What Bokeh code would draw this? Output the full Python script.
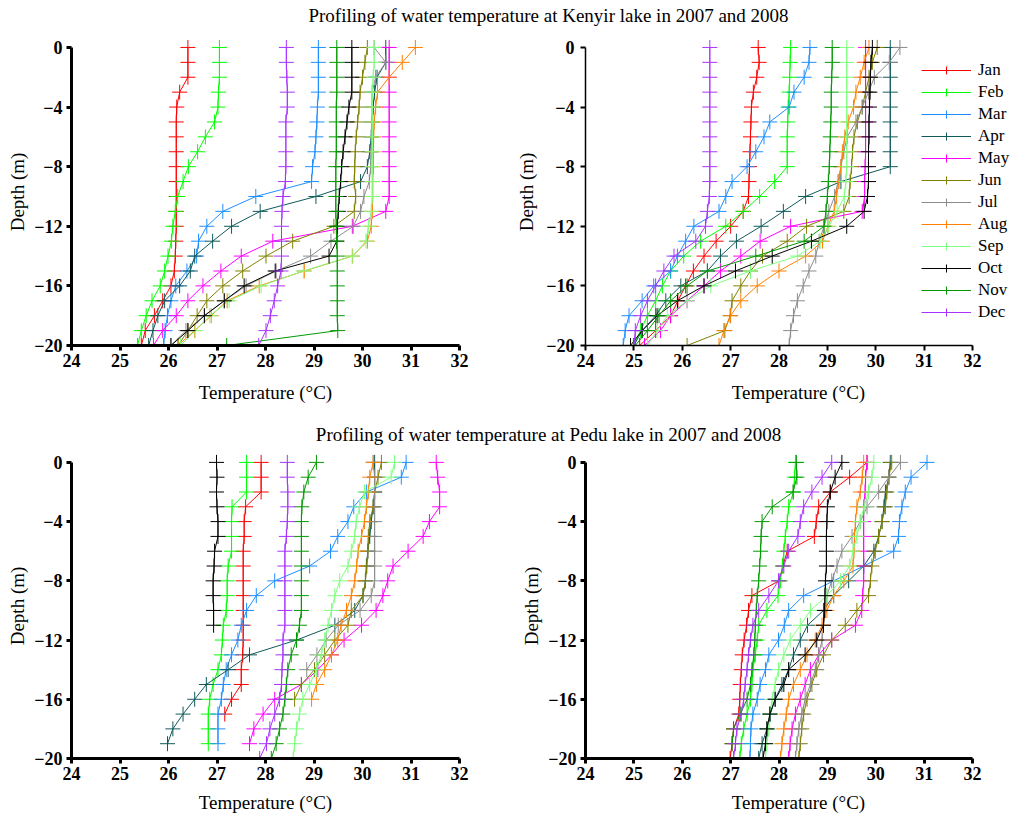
from bokeh.plotting import figure
from bokeh.models import Range1d, FixedTicker, Legend, LegendItem, Label
from bokeh.layouts import column, row
from bokeh.embed import file_html
from bokeh.resources import INLINE

# ---------------- data ----------------
MONTHS = ["Jan", "Feb", "Mar", "Apr", "May", "Jun", "Jul", "Aug", "Sep", "Oct", "Nov", "Dec"]
COLORS = ["#FF0000", "#00FF00", "#1E8FFF", "#105A5A", "#FF00FF", "#808000",
          "#8C8C8C", "#FF8000", "#80FF80", "#000000", "#009A00", "#A833FF"]
DEPTH = [0, -1, -2, -3, -4, -5, -6, -7, -8, -9, -10, -11, -12, -13, -14, -15, -16, -17, -18, -19, -20]
X_TICKS = [24, 25, 26, 27, 28, 29, 30, 31, 32]
Y_TICKS = [0, -4, -8, -12, -16, -20]
TITLE_KENYIR = "Profiling of water temperature at Kenyir lake in 2007 and 2008"
TITLE_PEDU = "Profiling of water temperature at Pedu lake in 2007 and 2008"

# Kenyir lake 2007 (top left)
KEN07_JAN = [26.40, 26.40, 26.40, 26.23, 26.17, 26.16, 26.16, 26.16, 26.16, 26.16, 26.16, 26.16, 26.16, 26.15, 26.14, 26.12, 26.05, 25.88, 25.71, 25.52, 25.44]
KEN07_FEB = [27.05, 27.05, 27.05, 27.03, 27.02, 26.95, 26.76, 26.60, 26.41, 26.30, 26.19, 26.14, 26.09, 26.06, 25.99, 25.92, 25.83, 25.66, 25.54, 25.44, 25.36]
KEN07_MAR = [29.09, 29.09, 29.09, 29.09, 29.07, 29.06, 29.04, 29.02, 28.97, 28.95, 27.80, 27.12, 26.79, 26.62, 26.58, 26.38, 26.15, 26.05, 25.98, 25.93, 25.90]
KEN07_APR = [30.48, 30.48, 30.30, 30.25, 30.22, 30.20, 30.18, 30.15, 30.10, 29.96, 29.04, 27.89, 27.30, 26.91, 26.54, 26.45, 26.23, 25.92, 25.78, 25.68, 25.59]
KEN07_MAY = [30.55, 30.55, 30.55, 30.55, 30.55, 30.55, 30.55, 30.55, 30.55, 30.55, 30.55, 30.48, 29.79, 28.15, 27.50, 27.08, 26.71, 26.40, 26.16, 25.88, 25.69]
KEN07_JUN = [30.10, 30.05, 30.00, 29.95, 29.93, 29.90, 29.87, 29.85, 29.84, 29.83, 29.86, 29.83, 29.41, 28.56, 28.01, 27.53, 27.12, 26.79, 26.59, 26.40, 26.20]
KEN07_JUL = [30.24, 30.48, 30.27, 30.20, 30.20, 30.20, 30.19, 30.18, 30.17, 30.14, 30.03, 29.96, 29.81, 29.35, 28.93, 28.22, 27.60, 27.15, 26.74, 26.36, 26.05]
KEN07_AUG = [31.09, 30.82, 30.55, 30.31, 30.27, 30.24, 30.23, 30.22, 30.22, 30.21, 30.21, 30.20, 30.18, 30.10, 29.79, 28.80, 27.87, 27.21, 26.88, 26.54, 26.19]
KEN07_SEP = [30.24, 30.24, 30.22, 30.20, 30.20, 30.20, 30.20, 30.20, 30.20, 30.20, 30.20, 30.18, 30.12, 30.07, 29.80, 28.78, 27.91, 27.25, 26.85, 26.55, 26.25]
KEN07_OCT = [29.78, 29.78, 29.78, 29.78, 29.72, 29.68, 29.64, 29.60, 29.57, 29.55, 29.52, 29.50, 29.48, 29.47, 29.31, 28.20, 27.56, 27.15, 26.74, 26.40, 26.05]
KEN07_NOV = [29.47, 29.47, 29.47, 29.47, 29.46, 29.46, 29.46, 29.46, 29.45, 29.45, 29.45, 29.45, 29.46, 29.47, 29.48, 29.48, 29.48, 29.48, 29.48, 29.49, 27.20]
KEN07_DEC = [28.43, 28.43, 28.44, 28.45, 28.45, 28.42, 28.42, 28.42, 28.42, 28.41, 28.36, 28.34, 28.33, 28.33, 28.33, 28.32, 28.25, 28.18, 28.10, 28.01, 27.86]

# Kenyir lake 2008 (top right)
KEN08_JAN = [27.57, 27.59, 27.54, 27.47, 27.43, 27.42, 27.41, 27.40, 27.39, 27.38, 27.37, 27.26, 27.00, 26.70, 26.45, 26.23, 26.07, 25.91, 25.76, 25.45, 25.12]
KEN08_FEB = [28.24, 28.23, 28.22, 28.21, 28.19, 28.18, 28.17, 28.17, 28.17, 27.91, 27.60, 27.26, 26.90, 26.38, 26.03, 25.76, 25.59, 25.45, 25.28, 25.14, 24.99]
KEN08_MAR = [28.64, 28.62, 28.52, 28.31, 28.21, 27.81, 27.69, 27.52, 27.34, 27.03, 26.90, 26.76, 26.24, 26.07, 25.90, 25.76, 25.41, 25.17, 24.90, 24.82, 24.78]
KEN08_APR = [30.30, 30.30, 30.30, 30.30, 30.30, 30.30, 30.30, 30.30, 30.30, 29.28, 28.55, 28.09, 27.63, 27.12, 26.79, 26.52, 25.97, 25.66, 25.45, 25.17, 25.00]
KEN08_MAY = [29.79, 29.79, 29.79, 29.79, 29.79, 29.79, 29.79, 29.79, 29.78, 29.77, 29.77, 29.72, 28.24, 27.61, 27.21, 26.79, 26.45, 26.10, 25.76, 25.55, 25.22]
KEN08_JUN = [30.03, 29.93, 29.86, 29.79, 29.72, 29.62, 29.55, 29.52, 29.50, 29.47, 29.45, 29.34, 28.57, 28.17, 27.66, 27.41, 27.21, 27.03, 26.99, 26.88, 26.10]
KEN08_JUL = [30.50, 30.28, 29.97, 29.85, 29.72, 29.59, 29.41, 29.34, 29.28, 29.22, 29.15, 29.03, 28.93, 28.83, 28.76, 28.62, 28.50, 28.38, 28.30, 28.24, 28.21]
KEN08_AUG = [29.86, 29.76, 29.68, 29.59, 29.54, 29.43, 29.36, 29.31, 29.28, 29.24, 29.19, 29.14, 29.01, 28.90, 28.55, 28.00, 27.55, 27.21, 27.00, 26.86, 26.76]
KEN08_SEP = [29.40, 29.40, 29.40, 29.40, 29.40, 29.40, 29.40, 29.40, 29.40, 29.38, 29.35, 29.20, 29.03, 28.85, 28.38, 27.41, 26.59, 26.10, 25.69, 25.48, 25.28]
KEN08_OCT = [29.93, 29.90, 29.89, 29.88, 29.87, 29.86, 29.86, 29.85, 29.85, 29.85, 29.83, 29.76, 29.40, 28.67, 27.86, 27.10, 26.45, 25.90, 25.48, 25.17, 24.93]
KEN08_NOV = [29.10, 29.10, 29.09, 29.08, 29.08, 29.07, 29.06, 29.05, 29.04, 29.02, 29.00, 28.97, 28.93, 28.52, 27.52, 26.52, 26.10, 25.76, 25.52, 25.28, 25.03]
KEN08_DEC = [26.57, 26.57, 26.57, 26.57, 26.57, 26.57, 26.57, 26.57, 26.57, 26.57, 26.56, 26.52, 26.48, 26.28, 25.83, 25.62, 25.45, 25.28, 25.14, 25.03, 25.00]

# Pedu lake 2007 (bottom left); some profiles stop before -20 m
PED07_JAN = [27.91, 27.91, 27.91, 27.59, 27.56, 27.56, 27.54, 27.54, 27.54, 27.54, 27.54, 27.54, 27.54, 27.53, 27.50, 27.50, 27.30, 27.16]
PED07_FEB = [27.61, 27.61, 27.61, 27.31, 27.30, 27.30, 27.30, 27.23, 27.21, 27.21, 27.19, 27.13, 27.11, 27.09, 27.02, 26.92, 26.85, 26.82, 26.82, 26.82]
PED07_MAR = [30.90, 30.80, 30.08, 29.82, 29.70, 29.49, 29.34, 28.91, 28.19, 27.81, 27.61, 27.50, 27.43, 27.30, 27.19, 27.13, 27.09, 27.02, 27.02, 27.02]
PED07_APR = [30.25, 30.25, 30.25, 30.22, 30.18, 30.15, 30.11, 30.08, 30.06, 30.01, 29.84, 29.43, 28.64, 27.67, 27.23, 26.78, 26.54, 26.30, 26.09, 25.98]
PED07_MAY = [31.52, 31.55, 31.59, 31.59, 31.38, 31.25, 30.94, 30.63, 30.52, 30.42, 30.28, 29.98, 29.62, 29.36, 29.08, 28.74, 28.19, 27.95, 27.76, 27.67]
PED07_JUN = [30.39, 30.32, 30.25, 30.22, 30.15, 30.12, 30.11, 30.09, 30.06, 30.01, 29.77, 29.70, 29.43, 29.22, 29.01, 28.74, 28.60]
PED07_JUL = [30.22, 30.25, 30.25, 30.25, 30.25, 30.25, 30.25, 30.25, 30.25, 30.18, 29.95, 29.50, 29.25, 29.06, 28.85]
PED07_AUG = [30.22, 30.15, 30.12, 30.08, 30.04, 29.98, 29.91, 29.88, 29.84, 29.77, 29.67, 29.56, 29.49, 29.36, 29.22, 29.05, 28.95]
PED07_SEP = [30.66, 30.59, 30.04, 29.94, 29.87, 29.84, 29.77, 29.70, 29.53, 29.43, 29.36, 29.29, 29.22, 29.15, 29.05, 28.91, 28.77, 28.70, 28.64, 28.60, 28.57]
PED07_OCT = [26.99, 27.00, 26.99, 27.00, 27.02, 27.02, 26.95, 26.94, 26.92, 26.92, 26.93, 26.93]
PED07_NOV = [29.05, 28.88, 28.79, 28.75, 28.74, 28.74, 28.74, 28.74, 28.74, 28.74, 28.74, 28.70, 28.64, 28.53, 28.46, 28.43, 28.40, 28.36, 28.29, 28.22, 28.12]
PED07_DEC = [28.45, 28.45, 28.46, 28.46, 28.45, 28.43, 28.40, 28.40, 28.40, 28.40, 28.40, 28.40, 28.36, 28.36, 28.34, 28.33, 28.29, 28.19, 28.09, 28.02, 27.88]

# Pedu lake 2008 (bottom right)
PED08_JAN = [29.82, 29.46, 29.06, 28.82, 28.77, 28.73, 28.17, 28.08, 28.00, 27.44, 27.37, 27.33, 27.28, 27.24, 27.22, 27.20, 27.19, 27.17, 27.06, 27.03, 26.99]
PED08_FEB = [28.34, 28.32, 28.30, 28.20, 28.17, 28.13, 28.10, 28.07, 28.03, 27.98, 27.75, 27.58, 27.55, 27.51, 27.46, 27.44, 27.41, 27.34, 27.27, 27.22, 27.19]
PED08_MAR = [31.06, 30.73, 30.61, 30.54, 30.49, 30.47, 30.37, 29.75, 29.13, 28.51, 28.20, 28.11, 27.99, 27.79, 27.72, 27.61, 27.55, 27.46, 27.42, 27.41, 27.40]
PED08_APR = [30.30, 30.27, 30.20, 30.17, 30.13, 30.06, 29.96, 29.75, 29.44, 29.13, 28.92, 28.59, 28.44, 28.30, 28.20, 28.06, 27.92, 27.82, 27.75, 27.65, 27.58]
PED08_MAY = [29.82, 29.79, 29.78, 29.75, 29.75, 29.75, 29.75, 29.75, 29.75, 29.73, 29.71, 29.58, 29.09, 28.82, 28.65, 28.54, 28.44, 28.34, 28.27, 28.23, 28.20]
PED08_JUN = [30.33, 30.27, 30.23, 30.20, 30.13, 30.06, 29.99, 29.92, 29.89, 29.85, 29.61, 29.37, 29.09, 28.92, 28.78, 28.68, 28.58, 28.51, 28.47, 28.44, 28.41]
PED08_JUL = [30.51, 30.27, 30.06, 29.82, 29.68, 29.51, 29.30, 29.20, 29.09, 28.99, 28.96, 28.92, 28.89, 28.82, 28.75, 28.65, 28.54, 28.47, 28.41, 28.37, 28.34]
PED08_AUG = [29.75, 29.72, 29.68, 29.61, 29.58, 29.56, 29.55, 29.53, 29.34, 29.13, 28.99, 28.89, 28.75, 28.58, 28.44, 28.30, 28.20, 28.15, 28.10, 28.06, 28.03]
PED08_SEP = [29.96, 29.92, 29.85, 29.76, 29.68, 29.61, 29.53, 29.46, 29.27, 28.99, 28.65, 28.44, 28.23, 28.10, 27.99, 27.92, 27.86, 27.81, 27.79, 27.75, 27.72]
PED08_OCT = [29.30, 29.16, 29.06, 29.00, 28.99, 28.98, 28.98, 28.98, 28.96, 28.95, 28.94, 28.92, 28.78, 28.54, 28.20, 28.10, 27.92, 27.81, 27.75, 27.72, 27.67]
PED08_NOV = [28.36, 28.37, 28.29, 27.86, 27.65, 27.63, 27.62, 27.60, 27.58, 27.55, 27.53, 27.51, 27.50, 27.48, 27.44, 27.41, 27.34, 27.20, 27.06, 27.03]
PED08_DEC = [29.09, 28.89, 28.68, 28.51, 28.44, 28.39, 28.20, 28.10, 27.99, 27.79, 27.58, 27.46, 27.41, 27.37, 27.34, 27.30, 27.27, 27.22, 27.13, 27.10, 27.06]

KEN07 = [KEN07_JAN, KEN07_FEB, KEN07_MAR, KEN07_APR, KEN07_MAY, KEN07_JUN,
         KEN07_JUL, KEN07_AUG, KEN07_SEP, KEN07_OCT, KEN07_NOV, KEN07_DEC]
KEN08 = [KEN08_JAN, KEN08_FEB, KEN08_MAR, KEN08_APR, KEN08_MAY, KEN08_JUN,
         KEN08_JUL, KEN08_AUG, KEN08_SEP, KEN08_OCT, KEN08_NOV, KEN08_DEC]
PED07 = [PED07_JAN, PED07_FEB, PED07_MAR, PED07_APR, PED07_MAY, PED07_JUN,
         PED07_JUL, PED07_AUG, PED07_SEP, PED07_OCT, PED07_NOV, PED07_DEC]
PED08 = [PED08_JAN, PED08_FEB, PED08_MAR, PED08_APR, PED08_MAY, PED08_JUN,
         PED08_JUL, PED08_AUG, PED08_SEP, PED08_OCT, PED08_NOV, PED08_DEC]

FONT = "Liberation Serif"
TOTAL_W = 1011


def title_fig(text, height, y_center_from_top):
    t = figure(width=TOTAL_W, height=height, x_range=Range1d(0, TOTAL_W), y_range=Range1d(0, height),
               x_axis_type=None, y_axis_type=None, toolbar_location=None, output_backend="svg",
               outline_line_color=None, min_border=0, title=None)
    t.xgrid.visible = False
    t.ygrid.visible = False
    t.add_layout(Label(x=548, y=height - y_center_from_top, text=text, text_align="center",
                       text_baseline="middle", text_font=FONT, text_font_size="19px",
                       text_color="black"))
    return t


def make_panel(series, frame_w, frame_h, x_max, bl, br, bt, bb, axis_w, tick_w,
               ylab_standoff, ylab_axis_standoff, xlab_axis_standoff):
    p = figure(frame_width=frame_w, frame_height=frame_h,
               x_range=Range1d(24, x_max), y_range=Range1d(-20, 0.6),
               toolbar_location=None, output_backend="svg", title=None,
               min_border_left=bl, min_border_right=br, min_border_top=bt, min_border_bottom=bb,
               outline_line_color=None)
    p.xgrid.visible = False
    p.ygrid.visible = False
    renderers = []
    for vals, color in zip(series, COLORS):
        d = DEPTH[:len(vals)]
        lr = p.line(vals, d, line_color=color, line_width=1)
        sr = p.scatter(vals, d, marker="cross", size=15, line_color=color, line_width=1)
        renderers.append((lr, sr))
    for ax in (p.xaxis[0], p.yaxis[0]):
        ax.axis_line_width = axis_w
        ax.axis_line_color = "black"
        ax.major_tick_line_width = tick_w
        ax.major_tick_line_color = "black"
        ax.major_tick_out = 5
        ax.major_tick_in = 0
        ax.minor_tick_line_color = None
        ax.major_label_text_font = FONT
        ax.major_label_text_font_style = "bold"
        ax.major_label_text_font_size = "18px"
        ax.major_label_text_color = "black"
        ax.axis_label_text_font = FONT
        ax.axis_label_text_font_style = "normal"
        ax.axis_label_text_font_size = "19px"
        ax.axis_label_text_color = "black"
    p.xaxis.ticker = FixedTicker(ticks=X_TICKS)
    p.yaxis.ticker = FixedTicker(ticks=Y_TICKS)
    p.xaxis.bounds = (24, 32)
    p.yaxis.bounds = (-20, 0)
    p.xaxis.axis_label = "Temperature (°C)"
    p.yaxis.axis_label = "Depth (m)"
    p.xaxis.major_label_standoff = 3
    p.xaxis.axis_label_standoff = xlab_axis_standoff
    p.yaxis.major_label_standoff = ylab_standoff
    p.yaxis.axis_label_standoff = ylab_axis_standoff
    return p, renderers


PX_PER_DEG = 387 / 8.0
RIGHT_FRAME_W = 426
RIGHT_X_MAX = 24 + RIGHT_FRAME_W / PX_PER_DEG

# top row
p1, _ = make_panel(KEN07, 388, 307, 32, 71, 53, 8, 65, 3, 3, 4, 3, 12)
p2, r2 = make_panel(KEN08, RIGHT_FRAME_W, 307, RIGHT_X_MAX, 73, 0, 8, 65, 1.5, 2, 6, 6, 12)
# bottom row
p3, _ = make_panel(PED07, 388, 305, 32, 71, 53, 5, 60, 3, 3, 4, 3, 9)
p4, _ = make_panel(PED08, RIGHT_FRAME_W, 305, RIGHT_X_MAX, 73, 0, 5, 60, 3, 3, 4, 3, 9)

legend = Legend(items=[LegendItem(label=m, renderers=list(rr)) for m, rr in zip(MONTHS, r2)],
                location=(336, 23), orientation="vertical",
                glyph_width=50, glyph_height=20, label_height=20, spacing=2,
                label_standoff=7, padding=0, margin=0,
                border_line_color=None, background_fill_alpha=0,
                label_text_font=FONT, label_text_font_size="17px", label_text_color="black")
p2.add_layout(legend)

t1 = title_fig(TITLE_KENYIR, 30, 15)
t2 = title_fig(TITLE_PEDU, 38, 24)

layout = column(t1, row(p1, p2), t2, row(p3, p4))

with open("out.html", "w") as f:
    f.write(file_html(layout, INLINE))
